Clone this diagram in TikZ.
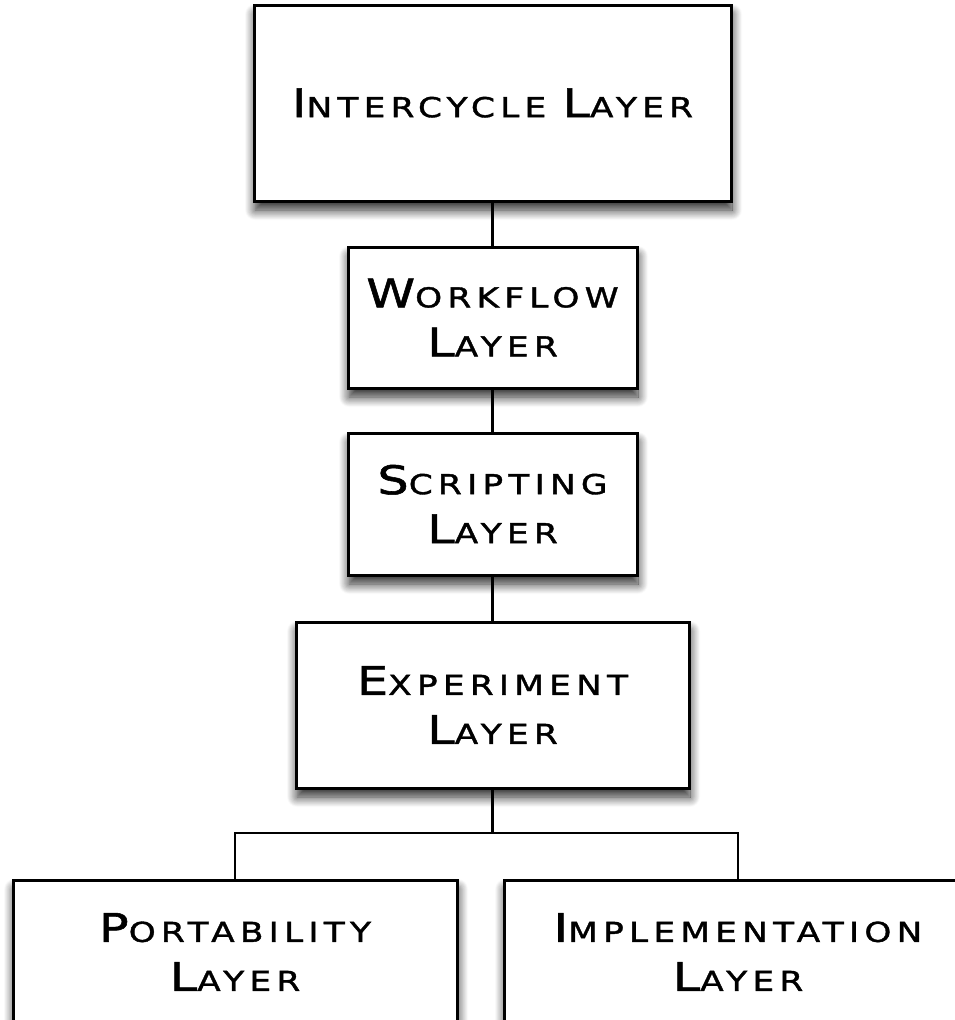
\documentclass[tikz,border=0pt]{standalone}
\usepackage{fontspec}
\setmainfont{DejaVu Sans}[FakeStretch=1.25,LetterSpace=19,FakeBold=1.4]
\usetikzlibrary{shadows.blur}
\newcommand{\capsA}[2]{{\fontsize{39.5}{49}\selectfont #1}{\fontsize{27.5}{49}\selectfont #2}}
\begin{document}
\begin{tikzpicture}[x=1pt,y=1pt,
  layerbox/.style={draw=black, line width=3pt, fill=white, align=center,
    inner sep=0pt, font=\fontsize{27.5}{49}\selectfont,
    blur shadow={shadow xshift=1pt, shadow yshift=-9pt, shadow blur radius=10pt,
      shadow blur steps=12, shadow opacity=85}},
  wire/.style={draw=black, line width=2.6pt}]
\useasboundingbox (0,0) rectangle (955,-1020);
\clip (0,0) rectangle (955,-1020);
\node[layerbox, minimum width=477pt, minimum height=196pt] (inter) at (492.5,-103) {\capsA{I}{NTERCYCLE} \capsA{L}{AYER}};
\node[layerbox, minimum width=289pt, minimum height=141pt] (work) at (492.5,-317.5) {\capsA{W}{ORKFLOW}\\\capsA{L}{AYER}};
\node[layerbox, minimum width=289pt, minimum height=142pt] (script) at (492.5,-504) {\capsA{S}{CRIPTING}\\\capsA{L}{AYER}};
\node[layerbox, minimum width=393pt, minimum height=166pt] (exp) at (492.5,-705) {\capsA{E}{XPERIMENT}\\\capsA{L}{AYER}};
\node[layerbox, minimum width=444pt, minimum height=144pt] (port) at (235,-952) {\capsA{P}{ORTABILITY}\\\capsA{L}{AYER}};
\node[layerbox, minimum width=468pt, minimum height=144pt] (impl) at (738,-952) {\capsA{I}{MPLEMENTATION}\\\capsA{L}{AYER}};
\coordinate (junc) at (492.5,-833);
\draw[wire] (inter.south) -- (work.north);
\draw[wire] (work.south) -- (script.north);
\draw[wire] (script.south) -- (exp.north);
\draw[wire] (exp.south) -- (junc);
\draw[wire] (junc) -| (port.north);
\draw[wire] (junc) -| (impl.north);
\end{tikzpicture}
\end{document}
